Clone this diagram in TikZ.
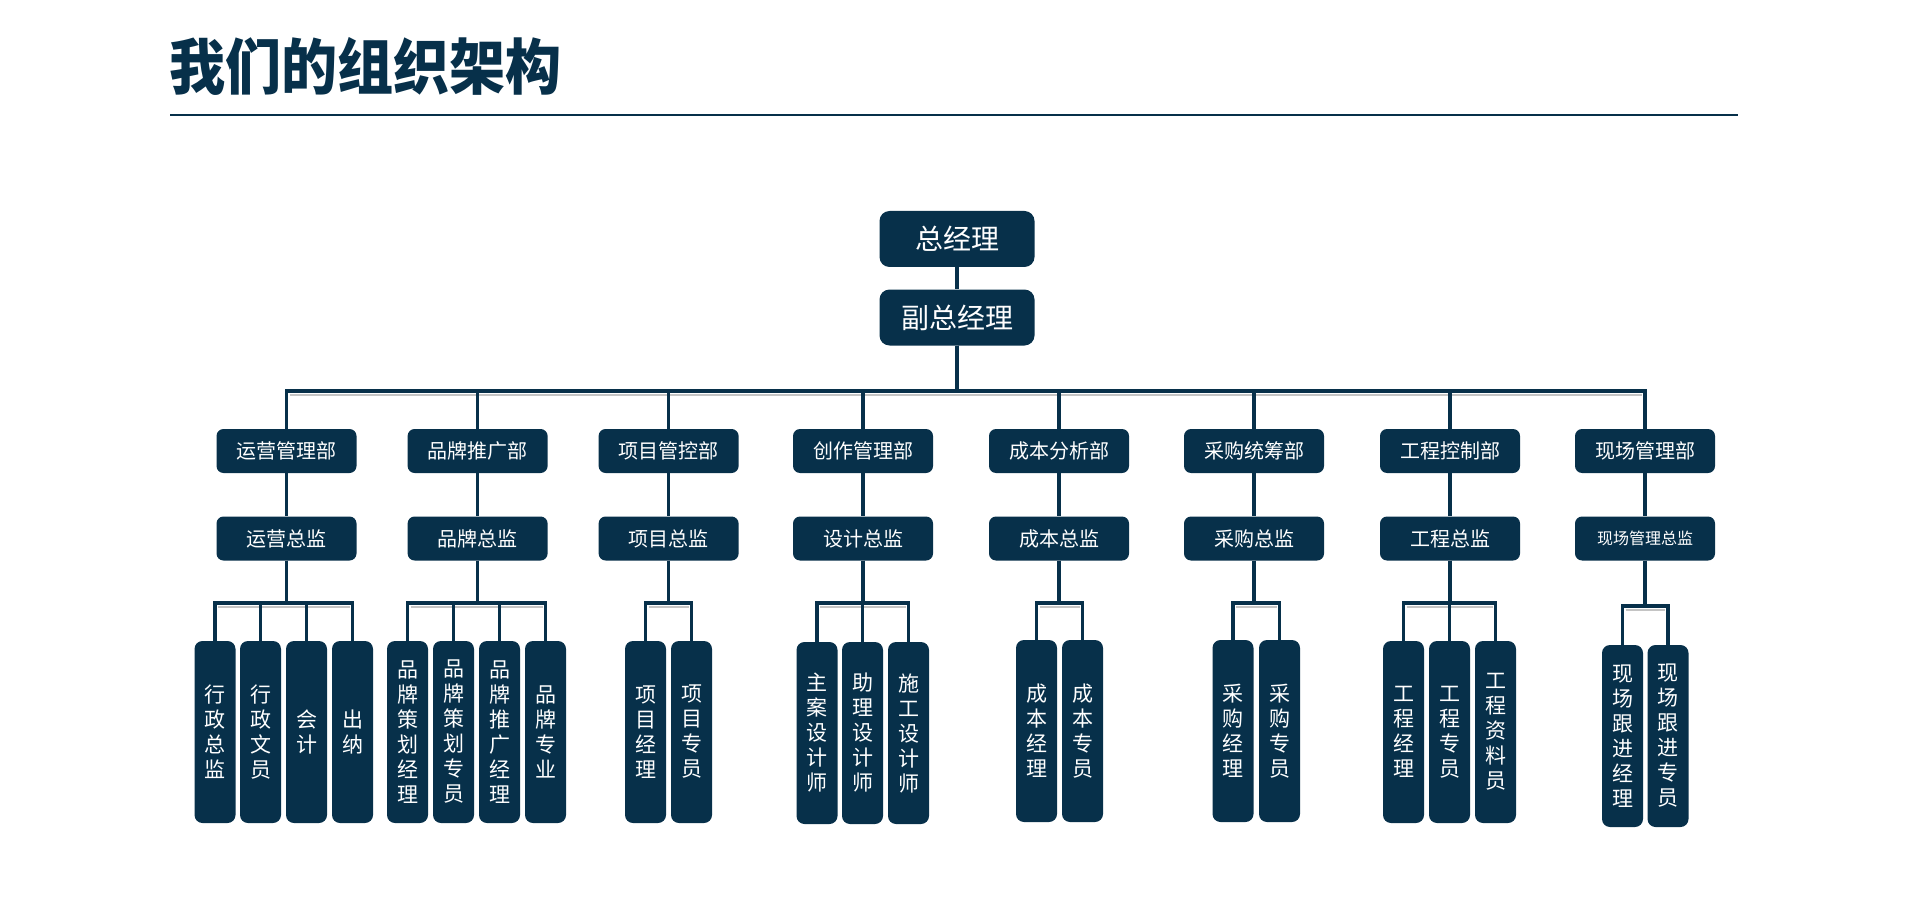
\documentclass[tikz,border=0pt]{standalone}
\usepackage{fontspec}
\setmainfont{Noto Sans CJK SC}
\usetikzlibrary{calc}
\definecolor{navy}{HTML}{07304A}
\definecolor{shadowgrey}{HTML}{C4C4C4}
\begin{document}
\begin{tikzpicture}[x=1pt,y=-1pt,
  box/.style={fill=navy, text=white, inner sep=0pt, align=center},
  topbox/.style={box, minimum width=155pt, minimum height=56pt, rounded corners=10pt, font=\fontsize{28}{30}\selectfont},
  deptbox/.style={box, minimum width=140pt, minimum height=44pt, rounded corners=7pt, font=\fontsize{20}{22}\selectfont},
  leafbox/.style={box, minimum width=41pt, minimum height=182pt, rounded corners=8pt, font=\fontsize{21}{25}\selectfont},
  conn/.style={draw=navy, line width=3.5pt},
  shade/.style={draw=shadowgrey, line width=2.5pt},
]
\useasboundingbox (0,0) rectangle (1920,920);

% title
\node[anchor=west, text=navy, inner sep=0pt] (title) at (169,66)
  {\scalebox{1.02}[1.1]{\fontsize{55}{58}\selectfont\bfseries 我们的组织架构}};
\coordinate (ruleL) at (170,115);
\coordinate (ruleR) at (1738,115);
\draw[navy, line width=1.5pt] (ruleL) -- (ruleR);

% top
\node[topbox] (gm) at (957,239) {总经理};
\node[topbox] (vgm) at (957,317.5) {副总经理};

% departments
\node[deptbox] (d0) at (286.5,451) {运营管理部};
\node[deptbox] (d1) at (477.6,451) {品牌推广部};
\node[deptbox] (d2) at (668.6,451) {项目管控部};
\node[deptbox] (d3) at (863,451) {创作管理部};
\node[deptbox] (d4) at (1059,451) {成本分析部};
\node[deptbox] (d5) at (1254,451) {采购统筹部};
\node[deptbox] (d6) at (1450,451) {工程控制部};
\node[deptbox] (d7) at (1645,451) {现场管理部};

% directors
\node[deptbox] (m0) at (286.5,538.5) {运营总监};
\node[deptbox] (m1) at (477.6,538.5) {品牌总监};
\node[deptbox] (m2) at (668.6,538.5) {项目总监};
\node[deptbox] (m3) at (863,538.5) {设计总监};
\node[deptbox] (m4) at (1059,538.5) {成本总监};
\node[deptbox] (m5) at (1254,538.5) {采购总监};
\node[deptbox] (m6) at (1450,538.5) {工程总监};
\node[deptbox, font=\fontsize{16}{18}\selectfont] (m7) at (1645,538.5) {现场管理总监};

% leaves
\node[leafbox] (a1) at (215,732) {行\\政\\总\\监};
\node[leafbox] (a2) at (260.5,732) {行\\政\\文\\员};
\node[leafbox] (a3) at (306.5,732) {会\\计};
\node[leafbox] (a4) at (352.5,732) {出\\纳};

\node[leafbox] (b1) at (407.5,732) {品\\牌\\策\\划\\经\\理};
\node[leafbox] (b2) at (453.5,732) {品\\牌\\策\\划\\专\\员};
\node[leafbox] (b3) at (499.5,732) {品\\牌\\推\\广\\经\\理};
\node[leafbox] (b4) at (545.5,732) {品\\牌\\专\\业};

\node[leafbox] (c1) at (645.5,732) {项\\目\\经\\理};
\node[leafbox] (c2) at (691.5,732) {项\\目\\专\\员};

\node[leafbox] (e1) at (817,733) {主\\案\\设\\计\\师};
\node[leafbox] (e2) at (862.5,733) {助\\理\\设\\计\\师};
\node[leafbox] (e3) at (908.5,733) {施\\工\\设\\计\\师};

\node[leafbox] (f1) at (1036.5,731) {成\\本\\经\\理};
\node[leafbox] (f2) at (1082.5,731) {成\\本\\专\\员};

\node[leafbox] (g1) at (1233,731) {采\\购\\经\\理};
\node[leafbox] (g2) at (1279.5,731) {采\\购\\专\\员};

\node[leafbox] (h1) at (1403.5,732) {工\\程\\经\\理};
\node[leafbox] (h2) at (1449.5,732) {工\\程\\专\\员};
\node[leafbox] (h3) at (1495.5,732) {工\\程\\资\\料\\员};

\node[leafbox] (k1) at (1622.5,736) {现\\场\\跟\\进\\经\\理};
\node[leafbox] (k2) at (1668,736) {现\\场\\跟\\进\\专\\员};

% shadows under horizontal bars
\draw[shade] ($(d0.north |- 0,391)+(3,4)$) -- ($(d7.north |- 0,391)+(-3,4)$);
\draw[shade] ($(a1.north |- 0,603)+(3,4)$) -- ($(a4.north |- 0,603)+(-3,4)$);
\draw[shade] ($(b1.north |- 0,603)+(3,4)$) -- ($(b4.north |- 0,603)+(-3,4)$);
\draw[shade] ($(c1.north |- 0,603)+(3,4)$) -- ($(c2.north |- 0,603)+(-3,4)$);
\draw[shade] ($(e1.north |- 0,603)+(3,4)$) -- ($(e3.north |- 0,603)+(-3,4)$);
\draw[shade] ($(f1.north |- 0,603)+(3,4)$) -- ($(f2.north |- 0,603)+(-3,4)$);
\draw[shade] ($(g1.north |- 0,603)+(3,4)$) -- ($(g2.north |- 0,603)+(-3,4)$);
\draw[shade] ($(h1.north |- 0,603)+(3,4)$) -- ($(h3.north |- 0,603)+(-3,4)$);
\draw[shade] ($(k1.north |- 0,606)+(3,4)$) -- ($(k2.north |- 0,606)+(-3,4)$);

% connectors
\draw[conn] (gm.south) -- (vgm.north);
\foreach \d in {d0,d1,d2,d3,d4,d5,d6,d7}{
  \draw[conn] (vgm.south) -- (vgm.south |- 0,391) -| (\d.north);
}
\foreach \i in {0,...,7}{
  \draw[conn] (d\i.south) -- (m\i.north);
}
\foreach \l in {a1,a2,a3,a4}{\draw[conn] (m0.south) -- (m0.south |- 0,603) -| (\l.north);}
\foreach \l in {b1,b2,b3,b4}{\draw[conn] (m1.south) -- (m1.south |- 0,603) -| (\l.north);}
\foreach \l in {c1,c2}{\draw[conn] (m2.south) -- (m2.south |- 0,603) -| (\l.north);}
\foreach \l in {e1,e2,e3}{\draw[conn] (m3.south) -- (m3.south |- 0,603) -| (\l.north);}
\foreach \l in {f1,f2}{\draw[conn] (m4.south) -- (m4.south |- 0,603) -| (\l.north);}
\foreach \l in {g1,g2}{\draw[conn] (m5.south) -- (m5.south |- 0,603) -| (\l.north);}
\foreach \l in {h1,h2,h3}{\draw[conn] (m6.south) -- (m6.south |- 0,603) -| (\l.north);}
\foreach \l in {k1,k2}{\draw[conn] (m7.south) -- (m7.south |- 0,606) -| (\l.north);}
\end{tikzpicture}
\end{document}
